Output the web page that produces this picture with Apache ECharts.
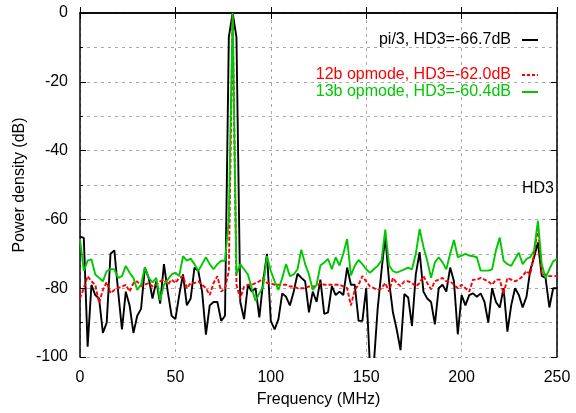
<!DOCTYPE html>
<html>
<head>
<meta charset="utf-8">
<script src="https://cdn.jsdelivr.net/npm/echarts@6/dist/echarts.min.js"></script>
<style>html,body{margin:0;padding:0;background:#fff}#c{width:576px;height:413px}</style>
</head>
<body>
<div id="c"></div>
<script>
const freq = [0,2,4,6,8,10,12,14,16,18,20,22,24,26,28,30,32,34,36,38,40,42,44,46,48,50,52,54,56,58,60,62,64,66,68,70,72,74,76,78,80,82,84,86,88,90,92,94,96,98,100,102,104,106,108,110,112,114,116,118,120,122,124,126,128,130,132,134,136,138,140,142,144,146,148,150,152,154,156,158,160,162,164,166,168,170,172,174,176,178,180,182,184,186,188,190,192,194,196,198,200,202,204,206,208,210,212,214,216,218,220,222,224,226,228,230,232,234,236,238,240,242,244,246,248,250];

const pi3 = [-65, -65.4, -97, -79, -82, -83, -93, -90, -70, -69,
 -81, -92, -81, -85, -93, -88, -86, -74, -77, -83,
 -78, -84.5, -73, -81, -88, -89, -82, -76, -85, -83,
 -74, -75, -81, -93.5, -85, -84, -84, -89.5, -88, -7,
 0, -7, -84, -89, -79, -81, -80, -88.5, -78, -70,
 -89.5, -92, -89, -81.5, -82.5, -85, -81, -75.8, -77, -78,
 -87, -81, -84, -77.5, -87.5, -87, -79.4, -82, -81, -82,
 -74, -79, -79, -89.5, -89.5, -80, -103, -102, -86, -75,
 -65, -78, -87, -92, -98, -81.7, -82.7, -91, -76, -69.5,
 -81, -83, -84, -90.5, -80, -79, -81, -74, -78, -93.4,
 -82, -85, -82, -81.5, -82.5, -81.5, -84, -90, -80, -84,
 -85.6, -80, -92.6, -85, -80, -82, -85.6, -82.5, -74.7, -71,
 -66.7, -76.4, -77, -85.6, -80, -80];

const op12b = [-83, -80, -76.5, -78, -79, -84.3, -80.5, -78.2, -81.5, -80.5,
 -80, -79.5, -79, -81, -78.5, -78, -79.5, -79, -78.5, -79.5,
 -79, -78, -77.5, -79, -77.5, -78.5, -77, -76.5, -80, -78.5,
 -78.5, -78, -79, -80, -82, -78.5, -76.5, -81, -80, -75,
 -1, -79, -83, -79.5, -79, -79, -78.5, -78, -77, -78.5,
 -78.5, -79, -79, -79, -79, -79.5, -79.5, -80, -80, -80,
 -79.5, -79.5, -79.4, -78.5, -79, -79, -79, -79, -79, -79.5,
 -80, -85, -80.5, -79, -76.5, -78, -79.5, -80, -80.5, -80,
 -78.5, -81, -77, -78.5, -79.4, -78, -78, -78.5, -79.5, -78.5,
 -76.5, -78.5, -80.3, -78, -77.5, -77, -78, -78, -79, -80,
 -79, -80, -81, -77.5, -77.5, -77, -77.5, -78, -79, -77.5,
 -77.5, -81.7, -77, -77.5, -78, -77.5, -76.5, -75, -76, -70,
 -62, -76, -76, -76.5, -76.5, -76.5];

const op13b = [-65.7, -75, -72, -71.6, -76, -77, -78, -75, -74.5, -74.5,
 -77, -76.5, -73.5, -75.5, -77, -80.5, -79, -74, -77, -78.3,
 -77, -83.5, -79, -77.5, -76, -75.5, -76.5, -70.7, -72, -71.4,
 -73, -75, -73, -71, -73, -74.5, -73, -72, -72, -60,
 0, -76, -73, -74.5, -76, -80, -83.7, -81.5, -79.5, -70.7,
 -75, -78, -80.5, -77, -73, -76.5, -76, -74.5, -68.8, -73,
 -76, -80.5, -79, -73.4, -72.5, -71.5, -74.5, -71, -73.4, -70,
 -65.7, -76.3, -73.5, -71.8, -73, -74.5, -75.5, -74.5, -73.5, -72,
 -63, -73.4, -75, -75.5, -75, -74.5, -74, -74.5, -70, -62.8,
 -68, -72, -77, -72.5, -71, -72.5, -74.5, -70, -66, -71,
 -70.5, -70, -70.5, -70.7, -71, -74.9, -74.9, -74.9, -74.5, -69,
 -65.3, -72, -73, -73.5, -71.5, -69.7, -73, -71.5, -71, -69,
 -60.4, -73, -77, -74.5, -72.2, -71.5];

const seriesNames = ['pi/3, HD3=-66.7dB', '12b opmode, HD3=-62.0dB', '13b opmode, HD3=-60.4dB'];
const yTicks = [0, -20, -40, -60, -80, -100];
const xTicks = [0, 50, 100, 150, 200, 250];
const annotation = {text: 'HD3', x: 240, y: -51};

const FONT = 'Liberation Sans';
const BLACK = '#000000', RED = '#ff0000', GREEN = '#00c800';
const pair = (ys) => freq.map((f, i) => [f, ys[i]]);
const gridDash = {color: '#a8a8a8', type: [3, 4], width: 1};
const solidIcon = 'path://M0,0h16v2h-16z';
const dashIcon = 'path://M0,0h3v2h-3z M5,0h3v2h-3z M10,0h3v2h-3z M15,0h1v2h-1z';

const chart = echarts.init(document.getElementById('c'), null, {renderer: 'canvas'});
chart.setOption({
  animation: false,
  backgroundColor: '#fff',
  grid: {left: 80, right: 19, top: 13, bottom: 55},
  legend: [
    {
      data: [{name: seriesNames[0], icon: solidIcon, textStyle: {color: BLACK}}],
      right: 33, top: 27, orient: 'vertical', align: 'right',
      itemWidth: 16, itemHeight: 2,
      textStyle: {fontFamily: FONT, fontSize: 16, padding: [0, 6, 0, 0]}
    },
    {
      data: [
        {name: seriesNames[1], icon: dashIcon, textStyle: {color: RED}},
        {name: seriesNames[2], icon: solidIcon, textStyle: {color: GREEN}}
      ],
      right: 33, top: 62, orient: 'vertical', align: 'right',
      itemWidth: 16, itemHeight: 2, itemGap: 1,
      textStyle: {fontFamily: FONT, fontSize: 16, padding: [0, 6, 0, 0]}
    }
  ],
  xAxis: [
    {
      type: 'value', min: 0, max: 250, interval: 50,
      name: 'Frequency (MHz)', nameLocation: 'middle', nameGap: 35,
      nameTextStyle: {fontFamily: FONT, fontSize: 16, color: BLACK},
      axisLine: {show: true, lineStyle: {color: BLACK, width: 1.5}},
      axisTick: {show: true, inside: true, length: 6, lineStyle: {color: BLACK}},
      axisLabel: {fontFamily: FONT, fontSize: 16, color: BLACK, margin: 13,
        formatter: v => xTicks.includes(v) ? String(v) : ''},
      splitLine: {show: true, lineStyle: gridDash}
    },
    {
      type: 'value', min: 0, max: 250, interval: 50, position: 'top',
      axisLine: {show: true, onZero: false, lineStyle: {color: BLACK, width: 1.5}},
      axisTick: {show: true, inside: true, length: 6, lineStyle: {color: BLACK}},
      axisLabel: {show: false}, splitLine: {show: false}
    }
  ],
  yAxis: [
    {
      type: 'value', min: -100, max: 0, interval: 20,
      name: 'Power density (dB)', nameLocation: 'middle', nameGap: 52,
      nameMoveOverlap: false,
      nameTextStyle: {fontFamily: FONT, fontSize: 16, color: BLACK},
      axisLine: {show: true, onZero: false, lineStyle: {color: BLACK, width: 1.5}},
      axisTick: {show: true, inside: true, length: 6, lineStyle: {color: BLACK}},
      minorTick: {show: true, splitNumber: 2, length: 3, lineStyle: {color: BLACK}},
      axisLabel: {fontFamily: FONT, fontSize: 16, color: BLACK, margin: 12,
        formatter: v => yTicks.includes(v) ? String(v) : ''},
      splitLine: {show: true, lineStyle: gridDash},
      minorSplitLine: {show: true, lineStyle: gridDash}
    },
    {
      type: 'value', min: -100, max: 0, interval: 20, position: 'right',
      axisLine: {show: true, onZero: false, lineStyle: {color: BLACK, width: 1.5}},
      axisTick: {show: true, inside: true, length: 6, lineStyle: {color: BLACK}},
      axisLabel: {show: false}, splitLine: {show: false}
    }
  ],
  series: [
    {
      name: seriesNames[0], type: 'line', data: pair(pi3), symbol: 'none',
      lineStyle: {color: BLACK, width: 1.9}, itemStyle: {color: BLACK},
      markPoint: {
        symbol: 'rect', symbolSize: 1, itemStyle: {color: 'rgba(0,0,0,0)'},
        label: {show: true, position: 'inside', formatter: annotation.text,
          fontFamily: FONT, fontSize: 16, color: BLACK},
        data: [{coord: [annotation.x, annotation.y]}]
      }
    },
    {
      name: seriesNames[1], type: 'line', data: pair(op12b), symbol: 'none',
      lineStyle: {color: RED, width: 1.9, type: [4, 2]}, itemStyle: {color: RED}
    },
    {
      name: seriesNames[2], type: 'line', data: pair(op13b), symbol: 'none',
      lineStyle: {color: GREEN, width: 1.9}, itemStyle: {color: GREEN}
    }
  ]
});
</script>
</body>
</html>
